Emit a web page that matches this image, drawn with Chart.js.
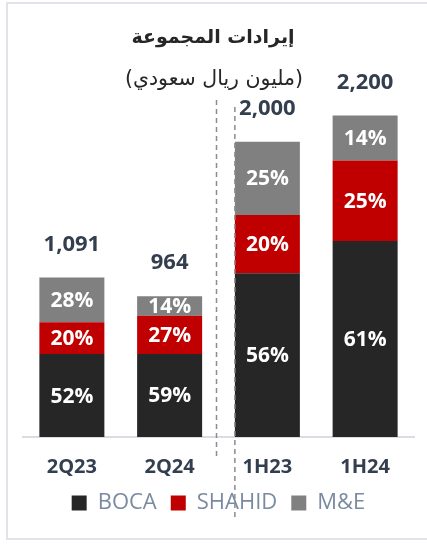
<!DOCTYPE html>
<html>
<head>
<meta charset="utf-8">
<script src="https://cdn.jsdelivr.net/npm/chart.js@4.4.1/dist/chart.umd.min.js"></script>
<style>
  html, body { margin: 0; padding: 0; background: #ffffff; }
  #wrap { position: relative; width: 427px; height: 545px; overflow: hidden; }
  #frame { position: absolute; left: 6px; top: 2px; width: 440px; height: 538px; border: 2px solid #e0e4e9; box-sizing: border-box; }
  canvas { position: absolute; left: 0; top: 0; }
</style>
</head>
<body>
<div id="wrap">
  <div id="frame"></div>
  <canvas id="c" width="427" height="545"></canvas>
</div>
<script>
const categories = ['2Q23', '2Q24', '1H23', '1H24'];
const totals = [1091, 964, 2000, 2200];
const totalLabels = ['1,091', '964', '2,000', '2,200'];
const bocaPct = [52, 59, 56, 61];
const shahidPct = [20, 27, 20, 25];
const mePct = [28, 14, 25, 14];
const seriesNames = ['BOCA', 'SHAHID', 'M&E'];
const titleText = 'إيرادات المجموعة';
const subtitleText = '(مليون ريال سعودي)';

const pctSets = [bocaPct, shahidPct, mePct];
const colors = ['#262626', '#c00000', '#808080'];

const datasets = pctSets.map((p, i) => ({
  label: seriesNames[i],
  data: p.map((v, k) => totals[k] * v / 100),
  pct: p,
  backgroundColor: colors[i],
  borderWidth: 0,
  barPercentage: 1,
  categoryPercentage: 0.665
}));

const labelFont = '"Open Sans", "DejaVu Sans", sans-serif';

const overlay = {
  id: 'overlay',
  afterDatasetsDraw(chart) {
    const ctx = chart.ctx;
    ctx.save();
    ctx.textAlign = 'center';
    ctx.textBaseline = 'middle';
    ctx.fillStyle = '#ffffff';
    ctx.font = 'bold 21px ' + labelFont;
    chart.data.datasets.forEach((ds, di) => {
      const meta = chart.getDatasetMeta(di);
      meta.data.forEach((el, k) => {
        ctx.fillText(ds.pct[k] + '%', el.x, (el.y + el.base) / 2 + 1);
      });
    });
    const topMeta = chart.getDatasetMeta(chart.data.datasets.length - 1);
    ctx.fillStyle = '#333f4f';
    ctx.font = 'bold 22px ' + labelFont;
    topMeta.data.forEach((el, k) => {
      ctx.fillText(totalLabels[k], el.x, el.y - 33);
    });
    const b1 = topMeta.data[1], b2 = topMeta.data[2];
    const xMid = (b1.x + b2.x) / 2 - 2;
    const xEdge = b2.x - b2.width / 2;
    ctx.strokeStyle = '#8c8c8c';
    ctx.lineWidth = 1.5;
    ctx.setLineDash([5, 4]);
    ctx.beginPath();
    ctx.moveTo(xMid, 100); ctx.lineTo(xMid, 457);
    ctx.stroke();
    ctx.beginPath();
    ctx.moveTo(xEdge, 107); ctx.lineTo(xEdge, 517);
    ctx.stroke();
    ctx.setLineDash([]);
    ctx.direction = 'rtl';
    ctx.textAlign = 'center';
    ctx.fillStyle = '#262626';
    ctx.font = 'bold 19px "DejaVu Sans", sans-serif';
    ctx.fillText(titleText, 213, 38);
    ctx.font = '20.5px "DejaVu Sans", sans-serif';
    ctx.fillText(subtitleText, 214, 80);
    ctx.restore();
  }
};

new Chart(document.getElementById('c'), {
  type: 'bar',
  data: { labels: categories, datasets },
  options: {
    responsive: false,
    animation: false,
    layout: { padding: { left: 23, right: 13, top: 60, bottom: 21 } },
    scales: {
      x: {
        stacked: true,
        grid: { display: false, drawTicks: false },
        border: { display: true, color: '#d9dde3', width: 2 },
        ticks: {
          color: '#333f4f',
          padding: 18,
          font: { family: labelFont, size: 20, weight: 'bold' }
        },
        afterFit(scale) { scale.height = 41; }
      },
      y: {
        stacked: true,
        display: false,
        min: 0,
        max: 2580
      }
    },
    plugins: {
      legend: {
        position: 'bottom',
        labels: {
          boxWidth: 15,
          boxHeight: 15,
          padding: 14,
          color: '#7a8aa0',
          font: { family: labelFont, size: 22 }
        }
      },
      tooltip: { enabled: false },
      title: { display: false }
    }
  },
  plugins: [overlay]
});
</script>
</body>
</html>
